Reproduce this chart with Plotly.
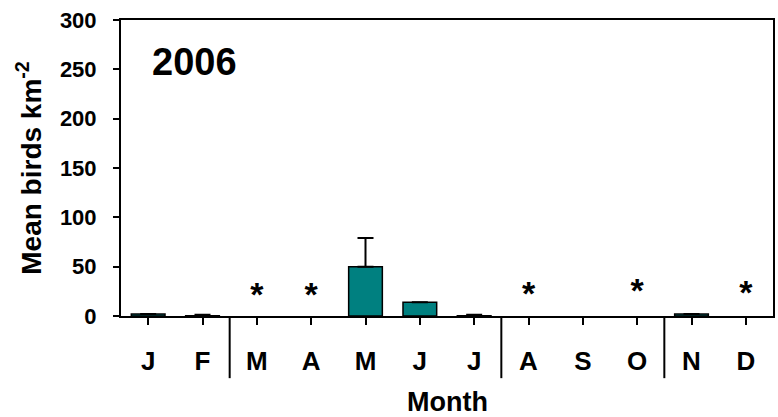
import plotly.graph_objects as go

months = ["J", "F", "M", "A", "M", "J", "J", "A", "S", "O", "N", "D"]
means = [2, 0.3, None, None, 50, 14, 0.3, None, None, None, 2, None]
errors = [0, 1, 0, 0, 29, 0, 1, 0, 0, 0, 0, 0]
star_months = [2, 3, 7, 9, 11]
star_y = [19, 19, 20, 23, 21]
separators = [1.5, 6.5, 9.5]
year_label = "2006"

xs = list(range(len(months)))
FONT = "Liberation Sans, Arial, sans-serif"

fig = go.Figure()
fig.add_trace(go.Bar(
    x=xs, y=means, width=0.62,
    marker=dict(color="#008080", line=dict(color="black", width=1.5)),
    error_y=dict(type="data", array=errors, symmetric=False, arrayminus=[0]*12,
                 color="black", thickness=2, width=8, visible=True),
    showlegend=False, hoverinfo="skip",
))
fig.add_trace(go.Scatter(
    x=star_months, y=star_y, mode="text", text=["*"] * len(star_months),
    textfont=dict(family=FONT, size=34, color="black", weight="bold"),
    showlegend=False, hoverinfo="skip",
))

for s in separators:
    fig.add_shape(type="line", xref="x", yref="paper", x0=s, x1=s, y0=0, y1=-0.21,
                  line=dict(color="black", width=2))

fig.add_annotation(text=year_label, xref="x", yref="y", x=0.03, y=257, xanchor="left",
                   yanchor="middle", showarrow=False,
                   font=dict(family=FONT, size=38, color="black", weight="bold"))

fig.add_annotation(text="Month", xref="paper", yref="paper", x=0.5, y=-0.29,
                   xanchor="center", yanchor="middle", showarrow=False,
                   font=dict(family=FONT, size=27, color="black", weight="bold"))

fig.update_layout(
    width=778, height=417,
    margin=dict(l=121, r=3, t=20, b=101),
    plot_bgcolor="white", paper_bgcolor="white",
    font=dict(family=FONT, color="black"),
)
fig.update_xaxes(
    range=[-0.5, 11.5], tickmode="array", tickvals=xs, ticktext=months,
    ticks="outside", ticklen=7, tickwidth=2, tickcolor="black",
    showline=True, linecolor="black", linewidth=2, mirror=True,
    showgrid=False, zeroline=False,
    tickfont=dict(family=FONT, size=26, weight="bold"),
    ticklabelstandoff=14,
)
fig.update_yaxes(
    range=[0, 300], tickvals=[0, 50, 100, 150, 200, 250, 300],
    ticks="outside", ticklen=6, tickwidth=2, tickcolor="black",
    showline=True, linecolor="black", linewidth=2, mirror=True,
    showgrid=False, zeroline=False,
    tickfont=dict(family=FONT, size=22, weight="bold"),
    ticklabelstandoff=12,
    title=dict(text="Mean birds km<sup>-2</sup>", font=dict(family=FONT, size=28, weight="bold"), standoff=10),
)

fig.write_html("out.html")
